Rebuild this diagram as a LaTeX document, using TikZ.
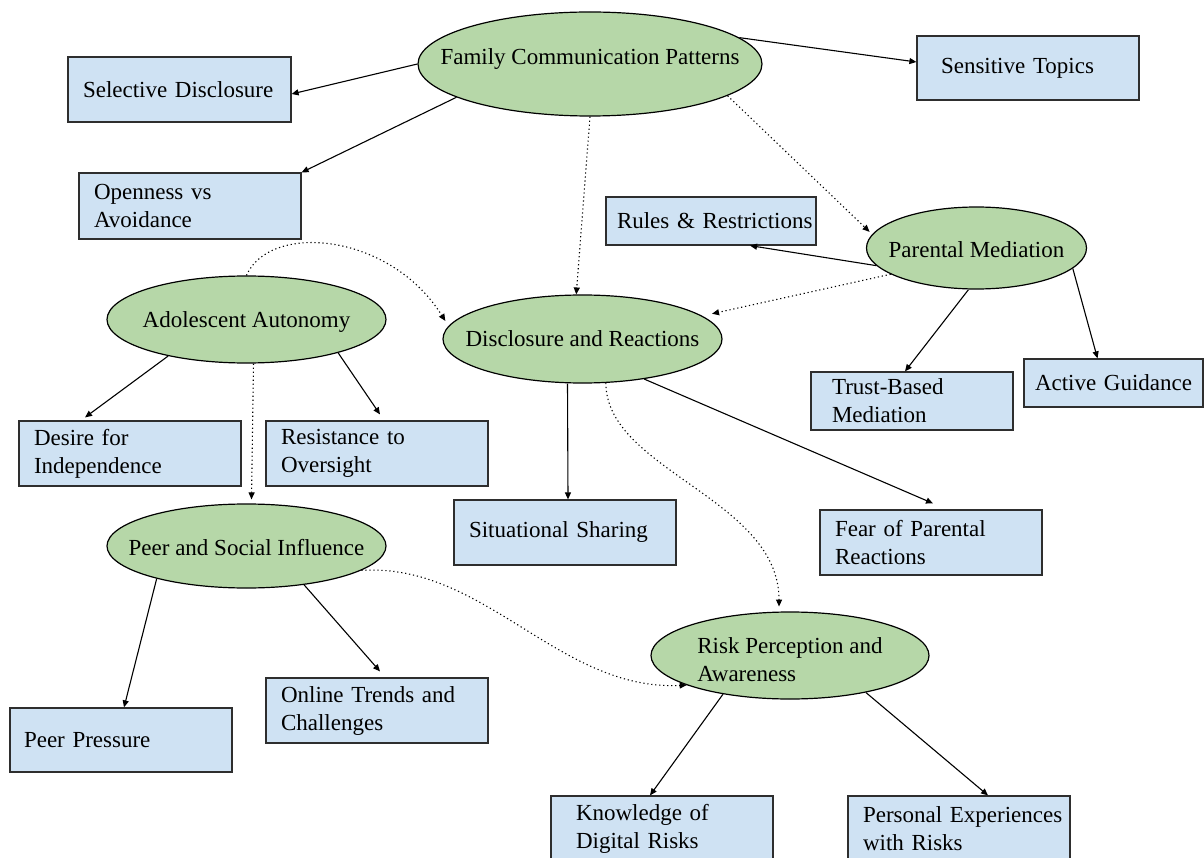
\documentclass[tikz,border=0pt]{standalone}
\usepackage{fontspec}
\setmainfont{Liberation Serif}
\usetikzlibrary{arrows.meta,shapes.geometric}

\definecolor{themefill}{HTML}{B6D7A8}
\definecolor{itemfill}{HTML}{CFE2F3}
\definecolor{itemline}{HTML}{2E2E2E}

% left inset of a text line inside a box
\newcommand{\ind}[1]{\hspace*{#1pt}}
% zero-size label for an ellipse, lowered by #1 pt so the shape keeps its own size
\newcommand{\elltext}[2]{\raisebox{#1pt}[0pt][0pt]{\makebox[0pt]{#2}}}

\begin{document}
\begin{tikzpicture}[x=1pt,y=-1pt,
  every node/.style={font=\fontsize{23}{28}\selectfont},
  theme/.style={ellipse, draw=black, line width=1.2pt, fill=themefill, inner sep=0pt},
  item/.style={rectangle, draw=itemline, line width=1.2pt, fill=itemfill,
               inner xsep=0pt, inner ysep=0pt, align=left},
  link/.style={line width=1.1pt, -{Triangle[length=7pt,width=6pt]}},
  hint/.style={line width=1.1pt, dash pattern=on 1.2pt off 2.8pt,
               -{Triangle[length=7pt,width=6pt]}}
]
\useasboundingbox (0,0) rectangle (1204,858);

% ---- themes ----
\node[theme, minimum width=344pt, minimum height=104pt] (fcp) at (590,64)
  {\elltext{-1}{Family Communication Patterns}};
\node[theme, minimum width=220pt, minimum height=82pt] (pm) at (976.5,248)
  {\elltext{-10}{Parental Mediation}};
\node[theme, minimum width=279pt, minimum height=87pt] (aa) at (246.5,319.5)
  {\elltext{-8}{Adolescent Autonomy}};
\node[theme, minimum width=279pt, minimum height=88pt] (dr) at (582.5,339)
  {\elltext{-7}{Disclosure and Reactions}};
\node[theme, minimum width=279pt, minimum height=84pt] (psi) at (246.5,546)
  {\elltext{-9}{Peer and Social Influence}};
\node[theme, minimum width=278pt, minimum height=87pt] (rpa) at (790,655.5)
  {\elltext{2.5}{\begin{tabular}[t]{@{}l@{}}Risk Perception and\\Awareness\end{tabular}}};

% ---- items ----
\node[item, minimum height=65pt, text width=223pt] (sel) at (179.5,89.5)
  {\ind{15}Selective Disclosure};
\node[item, minimum height=66pt, text width=222pt] (open) at (190,206)
  {\ind{15}Openness vs\\\ind{15}Avoidance};
\node[item, minimum height=64pt, text width=222pt] (sens) at (1028,68)
  {\ind{24}Sensitive Topics};
\node[item, minimum height=48pt, text width=210pt] (rules) at (711,221)
  {\ind{11}Rules \& Restrictions};
\node[item, minimum height=58pt, text width=202pt] (trust) at (912,401)
  {\ind{21}Trust-Based\\\ind{21}Mediation};
\node[item, minimum height=48pt, text width=179pt] (active) at (1113.5,383)
  {\ind{11}Active Guidance};
\node[item, minimum height=65pt, text width=222pt] (desire) at (130,453.5)
  {\ind{15}Desire for\\\ind{15}Independence};
\node[item, minimum height=65pt, text width=222pt] (resist) at (377,453.5)
  {\ind{15}Resistance to\\\ind{15}Oversight};
\node[item, minimum height=65pt, text width=222pt] (sit) at (565,532.5)
  {\ind{15}Situational Sharing};
\node[item, minimum height=65pt, text width=222pt] (fear) at (931,542.5)
  {\ind{15}Fear of Parental\\\ind{15}Reactions};
\node[item, minimum height=64pt, text width=222pt] (peer) at (121,740)
  {\ind{14}Peer Pressure};
\node[item, minimum height=65pt, text width=222pt] (online) at (377,710.5)
  {\ind{15}Online Trends and\\\ind{15}Challenges};
\node[item, minimum height=65pt, text width=222pt] (know) at (662,828.5)
  {\ind{25}Knowledge of\\\ind{25}Digital Risks};
\node[item, minimum height=65pt, text width=222pt] (pers) at (959,828.5)
  {\ind{15}Personal Experiences\\\ind{15}with Risks};

% ---- connectors ----
\draw[link] (fcp.west) -- ([yshift=-4.5pt]sel.east);
\draw[link] (fcp.194) -- (open.north east);
\draw[link] (fcp.10) -- ([yshift=6pt]sens.west);
\draw[hint] (fcp.south) -- (dr.98);
\draw[hint] (fcp.-13) -- ([xshift=-5pt]pm.171);

\draw[link] (pm.190) -- ([xshift=39pt]rules.south);
\draw[hint] (pm.197) -- ([xshift=10pt,yshift=2pt]dr.11);
\draw[link] ([xshift=-8pt]pm.south) -- ([xshift=-7pt]trust.north);
\draw[link] (pm.-12) -- ([xshift=-16pt]active.north);

\draw[link] (aa.205) -- ([xshift=-45pt,yshift=3pt]desire.north);
\draw[link] (aa.-20) -- ([xshift=3pt,yshift=6pt]resist.north);
\draw[hint] ([xshift=7pt]aa.south) -- ([xshift=5pt,yshift=4pt]psi.north);
\draw[hint] (aa.north) .. controls +(23,-53) and +(-56,-89) .. ([xshift=-9pt]dr.172);

\draw[link] ([xshift=-15pt]dr.south) -- ([xshift=3pt]sit.north);
\draw[link] (dr.-33) -- ([xshift=2pt,yshift=6pt]fear.north);
\draw[hint] (dr.-62) .. controls +(0,87) and +(0,-108) .. ([yshift=5pt]rpa.104);

\draw[link] (psi.200) -- ([xshift=3pt]peer.north);
\draw[link] (psi.-34) -- ([xshift=3pt,yshift=6pt]online.north);
\draw[hint] (psi.-12) .. controls +(123,-8) and +(-128,6) .. (rpa.196);

\draw[link] (rpa.210) -- ([xshift=-12pt]know.north);
\draw[link] (rpa.-26) -- ([xshift=29pt]pers.north);
\end{tikzpicture}
\end{document}
